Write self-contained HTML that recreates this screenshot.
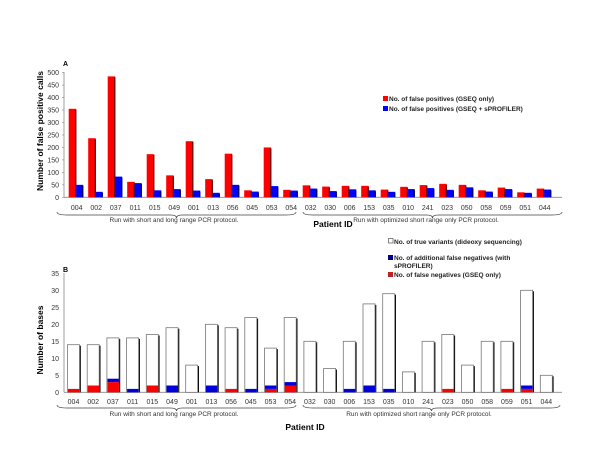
<!DOCTYPE html>
<html><head><meta charset="utf-8"><style>
body{margin:0;background:#fff;}
svg{display:block;font-family:"Liberation Sans",Arial,sans-serif;}
</style></head><body>
<svg id="c" width="600" height="464" xmlns="http://www.w3.org/2000/svg"></svg>
<script>
const patients=["004","002","037","011","015","049","001","013","056","045","053","054","032","030","006","153","035","010","241","023","050","058","059","051","044"];
const fpGseq=[355,237,485,62,173,88,225,73,175,28,200,30,48,43,46,46,31,42,49,54,50,28,39,20,35];
const fpSprof=[50,22,83,57,28,33,27,18,50,23,45,27,35,25,32,28,22,33,37,30,40,23,33,18,31];
const trueVariants=[14,14,16,16,17,19,8,20,19,22,13,22,15,7,15,26,29,6,15,17,8,15,15,30,5];
const fnGseq=[1,2,3,0,2,0,0,0,1,0,1,2,0,0,0,0,0,0,0,1,0,0,1,1,0];
const fnAdd=[0,0,1,1,0,2,0,2,0,1,1,1,0,0,1,2,1,0,0,0,0,0,0,1,0];
const ticksA=[0,50,100,150,200,250,300,350,400,450,500];
const ticksB=[0,5,10,15,20,25,30,35];
const svg=document.getElementById('c');
const NS="http://www.w3.org/2000/svg";
function el(t,a,txt){const e=document.createElementNS(NS,t);for(const k in a)e.setAttribute(k,a[k]);if(txt!==undefined)e.textContent=txt;svg.appendChild(e);return e;}
// chart A scales
const yA=v=>197.3-v*0.2493;
const xA=i=>76.7+i*19.5;
// chart B scales
const yB=v=>392.3-v*3.4;
const xB=i=>73.5+i*19.7;

let e;
e=el('text',{x:63,y:66,'font-size':7,'font-weight':'bold'},'A');

e=el('line',{x1:64,y1:72,x2:64,y2:197.3,stroke:'#888','stroke-width':0.8});

e=el('line',{x1:64,y1:197.3,x2:562,y2:197.3,stroke:'#888','stroke-width':0.8});

ticksA.forEach(t=>{
 e=el('text',{x:59,y:yA(t)+2.5,'font-size':7,'text-anchor':'end',fill:'#333'},String(t));
 
 el('line',{x1:62,y1:yA(t),x2:64,y2:yA(t),stroke:'#888','stroke-width':0.6});
});
patients.forEach((p,i)=>{
 const c=xA(i);
 e=el('rect',{x:c-8,y:yA(fpGseq[i]),width:7.5,height:197.3-yA(fpGseq[i]),fill:'#f00'});
 
 el('rect',{x:c-1.5,y:yA(fpGseq[i])+1,width:1.2,height:196.3-yA(fpGseq[i]),fill:'#500'});
 e=el('rect',{x:c-0.5,y:yA(fpSprof[i]),width:7,height:197.3-yA(fpSprof[i]),fill:'#00f'});
 
 el('rect',{x:c+5.5,y:yA(fpSprof[i])+1,width:1.2,height:196.3-yA(fpSprof[i]),fill:'#004'});
 e=el('text',{x:c,y:210,'font-size':7,'text-anchor':'middle',fill:'#333'},p);
 
});
function brace(x1,x2,y,h){
 const m=(x1+x2)/2;
 el('path',{d:`M${x1},${y} Q${x1},${y+h} ${x1+10},${y+h} L${m-6},${y+h} Q${m},${y+h} ${m},${y+h*2} Q${m},${y+h} ${m+6},${y+h} L${x2-10},${y+h} Q${x2},${y+h} ${x2},${y}`,fill:'none',stroke:'#444','stroke-width':0.7});
}
brace(57,296,212,3);brace(303,562,212,3);
e=el('text',{x:174,y:222,'font-size':6.5,'text-anchor':'middle',fill:'#333'},'Run with short and long range PCR protocol.');

e=el('text',{x:426,y:222,'font-size':6.5,'text-anchor':'middle',fill:'#333'},'Run with optimized short range only PCR protocol.');

e=el('text',{x:333,y:227,'font-size':8.5,'font-weight':'bold','text-anchor':'middle'},'Patient ID');

e=el('text',{x:0,y:0,'font-size':8.5,'font-weight':'bold','text-anchor':'middle',transform:'translate(43,131) rotate(-90)'},'Number of false positive calls');

e=el('rect',{x:383,y:96,width:5,height:5,fill:'#f00'});

e=el('text',{x:389,y:101,'font-size':6.5,'font-weight':'bold',fill:'#222'},'No. of false positives (GSEQ only)');

e=el('rect',{x:383,y:106,width:5,height:5,fill:'#00f'});

e=el('text',{x:389,y:111,'font-size':6.5,'font-weight':'bold',fill:'#222'},'No. of false positives (GSEQ + sPROFILER)');


// chart B
e=el('text',{x:63,y:272,'font-size':7,'font-weight':'bold'},'B');

e=el('line',{x1:64,y1:273,x2:64,y2:392.3,stroke:'#888','stroke-width':0.8});

e=el('line',{x1:64,y1:392.3,x2:562,y2:392.3,stroke:'#888','stroke-width':0.8});

ticksB.forEach(t=>{
 e=el('text',{x:59,y:yB(t)+2.5,'font-size':7,'text-anchor':'end',fill:'#333'},String(t));
 
});
patients.forEach((p,i)=>{
 const c=xB(i);const x=c-6,w=12;
 el('rect',{x:x+w,y:yB(trueVariants[i])+1,width:1.3,height:392.3-yB(trueVariants[i])-1,fill:'#000'});
 e=el('rect',{x:x,y:yB(trueVariants[i]),width:w,height:392.3-yB(trueVariants[i]),fill:'#fff',stroke:'#777','stroke-width':0.8});
 
 if(fnGseq[i]>0){e=el('rect',{x:x+0.5,y:yB(fnGseq[i]),width:w-0.5,height:392.3-yB(fnGseq[i]),fill:'#f00'});
 }
 if(fnAdd[i]>0){e=el('rect',{x:x+0.5,y:yB(fnGseq[i]+fnAdd[i]),width:w-0.5,height:yB(fnGseq[i])-yB(fnGseq[i]+fnAdd[i]),fill:'#00d'});
 }
 e=el('text',{x:c,y:404,'font-size':7,'text-anchor':'middle',fill:'#333'},p);
 
});
brace(57,296,405,3);brace(303,560,405,3);
e=el('text',{x:174,y:416,'font-size':6.5,'text-anchor':'middle',fill:'#333'},'Run with short and long range PCR protocol.');

e=el('text',{x:419,y:416,'font-size':6.5,'text-anchor':'middle',fill:'#333'},'Run with optimized short range only PCR protocol.');

e=el('text',{x:305,y:430,'font-size':8.5,'font-weight':'bold','text-anchor':'middle'},'Patient ID');

e=el('text',{x:0,y:0,'font-size':8.5,'font-weight':'bold','text-anchor':'middle',transform:'translate(43,340) rotate(-90)'},'Number of bases');

e=el('rect',{x:388.5,y:238.5,width:4.5,height:4.5,fill:'#fff',stroke:'#333','stroke-width':0.6});

e=el('text',{x:394,y:244,'font-size':6.5,'font-weight':'bold',fill:'#222'},'No. of true variants (dideoxy sequencing)');

e=el('rect',{x:388,y:255,width:5,height:5,fill:'#00008b'});

e=el('text',{x:394,y:260,'font-size':6.5,'font-weight':'bold',fill:'#222'},'No. of additional false negatives (with');

e=el('text',{x:394,y:268,'font-size':6.5,'font-weight':'bold',fill:'#222'},'sPROFILER)');

e=el('rect',{x:388,y:272,width:5,height:5,fill:'#b22'});

e=el('text',{x:394,y:277,'font-size':6.5,'font-weight':'bold',fill:'#222'},'No. of false negatives (GSEQ only)');

</script>
</body></html>
